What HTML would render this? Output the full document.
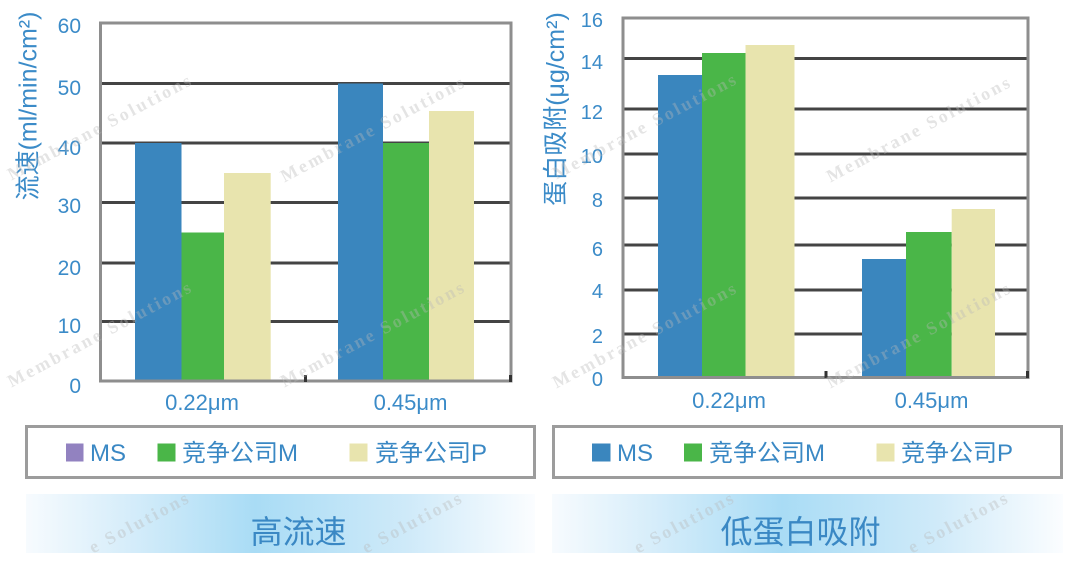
<!DOCTYPE html>
<html><head><meta charset="utf-8"><style>
html,body{margin:0;padding:0;background:#fff;width:1080px;height:561px;overflow:hidden;}
svg{display:block;}
text{font-family:"Liberation Sans","Noto Sans CJK SC",sans-serif;}
text.wm{font-family:"Liberation Serif",serif;font-weight:bold;font-size:18px;letter-spacing:2.6px;fill:rgba(185,185,185,0.38);}
</style></head><body>
<svg width="1080" height="561" viewBox="0 0 1080 561" xmlns="http://www.w3.org/2000/svg">
<defs>
<linearGradient id="bg" x1="0" x2="1" y1="0" y2="0">
<stop offset="0" stop-color="#f7fbfe"/>
<stop offset="0.2" stop-color="#d6edfa"/>
<stop offset="0.45" stop-color="#a9dcf5"/>
<stop offset="0.75" stop-color="#cfeaf9"/>
<stop offset="1" stop-color="#fbfdff"/>
</linearGradient>
</defs>

<!-- LEFT CHART -->
<g stroke="#444" stroke-width="3">
<line x1="100" x2="511" y1="83.5" y2="83.5"/>
<line x1="100" x2="511" y1="143" y2="143"/>
<line x1="100" x2="511" y1="202.5" y2="202.5"/>
<line x1="100" x2="511" y1="263" y2="263"/>
<line x1="100" x2="511" y1="321.5" y2="321.5"/>
</g>
<rect x="135" y="143" width="46.5" height="238" fill="#3a86be"/>
<rect x="181.5" y="232.5" width="42.5" height="148.5" fill="#4ab648"/>
<rect x="224" y="173" width="46.7" height="208" fill="#e8e4ae"/>
<rect x="338" y="83.5" width="45" height="297.5" fill="#3a86be"/>
<rect x="383" y="143" width="46" height="238" fill="#4ab648"/>
<rect x="429" y="111" width="45" height="270" fill="#e8e4ae"/>
<rect x="100.5" y="23" width="410.5" height="358" fill="none" stroke="#8e8e8e" stroke-width="3"/>
<line x1="305.5" x2="305.5" y1="375" y2="382" stroke="#333" stroke-width="3"/>
<line x1="510.5" x2="510.5" y1="375" y2="382" stroke="#333" stroke-width="3"/>

<g fill="#3b8bc8" font-size="21" text-anchor="end">
<text x="81" y="33">60</text>
<text x="81" y="95">50</text>
<text x="81" y="155">40</text>
<text x="81" y="213">30</text>
<text x="81" y="275">20</text>
<text x="81" y="333">10</text>
<text x="81" y="393">0</text>
</g>
<text transform="translate(36.5,106) rotate(-90)" text-anchor="middle" font-size="25" fill="#3b8bc8">流速(ml/min/cm²)</text>
<g fill="#3b8bc8" font-size="22" text-anchor="middle">
<text x="202" y="410">0.22μm</text>
<text x="410.5" y="410">0.45μm</text>
</g>

<!-- LEFT LEGEND -->
<rect x="26.5" y="426.5" width="508" height="51" fill="#fff" stroke="#9c9c9c" stroke-width="3"/>
<rect x="66" y="443.5" width="17.5" height="18" fill="#9282c0"/>
<rect x="157.5" y="443.5" width="18" height="18" fill="#4ab648"/>
<rect x="349.5" y="443.5" width="18" height="18" fill="#e8e4ae"/>
<g fill="#3a88c4" font-size="24">
<text x="90" y="461">MS</text>
<text x="182" y="461">竞争公司M</text>
<text x="375" y="461">竞争公司P</text>
</g>

<!-- LEFT BANNER -->
<rect x="26" y="494" width="509" height="59" fill="url(#bg)"/>
<text x="298.5" y="543" text-anchor="middle" font-size="32" fill="#3a88c4">高流速</text>

<!-- RIGHT CHART -->
<g stroke="#444" stroke-width="3">
<line x1="622" x2="1028" y1="58.5" y2="58.5"/>
<line x1="622" x2="1028" y1="109" y2="109"/>
<line x1="622" x2="1028" y1="154" y2="154"/>
<line x1="622" x2="1028" y1="198" y2="198"/>
<line x1="622" x2="1028" y1="245" y2="245"/>
<line x1="622" x2="1028" y1="290" y2="290"/>
<line x1="622" x2="1028" y1="334" y2="334"/>
</g>
<rect x="658" y="75" width="44" height="302" fill="#3a86be"/>
<rect x="702" y="53" width="43.5" height="324" fill="#4ab648"/>
<rect x="745.5" y="45" width="49" height="332" fill="#e8e4ae"/>
<rect x="862" y="259" width="44" height="118" fill="#3a86be"/>
<rect x="906" y="232" width="45.7" height="145" fill="#4ab648"/>
<rect x="951.7" y="209" width="43.3" height="168" fill="#e8e4ae"/>
<rect x="623" y="18" width="405" height="359.5" fill="none" stroke="#8e8e8e" stroke-width="3"/>
<line x1="826" x2="826" y1="371" y2="378" stroke="#333" stroke-width="3"/>
<line x1="1027.5" x2="1027.5" y1="371" y2="378" stroke="#333" stroke-width="3"/>

<g fill="#3b8bc8" font-size="20" text-anchor="end">
<text x="603" y="27">16</text>
<text x="603" y="69">14</text>
<text x="603" y="119">12</text>
<text x="603" y="163">10</text>
<text x="603" y="207">8</text>
<text x="603" y="256">6</text>
<text x="603" y="298">4</text>
<text x="603" y="343">2</text>
<text x="603" y="386">0</text>
</g>
<text transform="translate(564,109) rotate(-90)" text-anchor="middle" font-size="25" fill="#3b8bc8">蛋白吸附(μg/cm²)</text>
<g fill="#3b8bc8" font-size="22" text-anchor="middle">
<text x="729" y="408">0.22μm</text>
<text x="931.5" y="408">0.45μm</text>
</g>

<!-- RIGHT LEGEND -->
<rect x="553.5" y="426.5" width="508" height="51" fill="#fff" stroke="#9c9c9c" stroke-width="3"/>
<rect x="592" y="443.5" width="18.5" height="18" fill="#3a86be"/>
<rect x="684" y="443.5" width="18" height="18" fill="#4ab648"/>
<rect x="876.5" y="443.5" width="18" height="18" fill="#e8e4ae"/>
<g fill="#3a88c4" font-size="24">
<text x="617" y="461">MS</text>
<text x="709" y="461">竞争公司M</text>
<text x="901" y="461">竞争公司P</text>
</g>

<!-- RIGHT BANNER -->
<rect x="552" y="494" width="511" height="59" fill="url(#bg)"/>
<text x="800.5" y="543" text-anchor="middle" font-size="32" fill="#3a88c4">低蛋白吸附</text>

<!-- WATERMARKS -->
<g text-anchor="middle">
<text class="wm" transform="translate(103,132) rotate(-28)">Membrane Solutions</text>
<text class="wm" transform="translate(103,339) rotate(-28)">Membrane Solutions</text>
<text class="wm" transform="translate(376,134) rotate(-28)">Membrane Solutions</text>
<text class="wm" transform="translate(376,339) rotate(-28)">Membrane Solutions</text>
<text class="wm" transform="translate(648,131) rotate(-28)">Membrane Solutions</text>
<text class="wm" transform="translate(648,340) rotate(-28)">Membrane Solutions</text>
<text class="wm" transform="translate(922,134) rotate(-28)">Membrane Solutions</text>
<text class="wm" transform="translate(922,340) rotate(-28)">Membrane Solutions</text>
</g>
<g text-anchor="end">
<text class="wm" transform="translate(192,501) rotate(-28)">e Solutions</text>
<text class="wm" transform="translate(465,501) rotate(-28)">e Solutions</text>
<text class="wm" transform="translate(737,501) rotate(-28)">e Solutions</text>
<text class="wm" transform="translate(1011,501) rotate(-28)">e Solutions</text>
</g>
</svg>
</body></html>
